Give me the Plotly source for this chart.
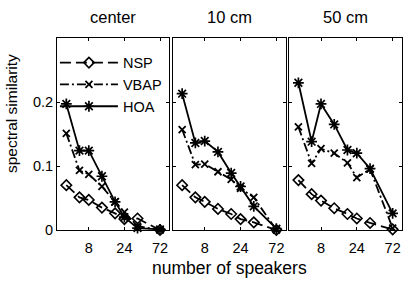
import plotly.graph_objects as go

speakers = [4, 6, 8, 12, 18, 24, 36, 72]
panels = ["center", "10 cm", "50 cm"]

nsp_center = [0.070, 0.051, 0.047, 0.035, 0.026, 0.017, 0.018, 0.0]
vbap_center = [0.151, 0.093, 0.087, 0.068, 0.044, 0.028, 0.006, 0.0]
hoa_center = [0.197, 0.124, 0.124, 0.084, 0.044, 0.020, 0.003, 0.001]

nsp_10 = [0.070, 0.051, 0.044, 0.033, 0.025, 0.017, 0.012, 0.0]
vbap_10 = [0.157, 0.102, 0.103, 0.091, 0.079, 0.065, 0.051, 0.0]
hoa_10 = [0.213, 0.136, 0.139, 0.122, 0.089, 0.068, 0.037, 0.002]

nsp_50 = [0.078, 0.056, 0.046, 0.034, 0.025, 0.018, 0.011, 0.001]
vbap_50 = [0.161, 0.104, 0.127, 0.120, 0.105, 0.082, 0.095, 0.003]
hoa_50 = [0.230, 0.138, 0.197, 0.165, 0.125, 0.120, 0.096, 0.026]

x_ticks = [8, 24, 72]
y_ticks = [0, 0.1, 0.2]
y_tick_labels = ["0", "0.1", "0.2"]

data = [
    (nsp_center, vbap_center, hoa_center),
    (nsp_10, vbap_10, hoa_10),
    (nsp_50, vbap_50, hoa_50),
]

FONT = "Liberation Sans, Arial, sans-serif"
W, H = 409, 282
ML, MR, MT, MB = 57, 7, 38, 52
domains = [[0.0, 0.3255], [0.3355, 0.6630], [0.6725, 1.0]]

fig = go.Figure()
styles = [
    ("NSP", dict(dash="11px,5px", width=1.8), dict(symbol="diamond-open", size=8, line=dict(width=1.6, color="black"))),
    ("VBAP", dict(dash="9px,3px,2px,3px", width=1.8), dict(symbol="x-thin-open", size=7, line=dict(width=1.8, color="black"))),
    ("HOA", dict(dash="solid", width=1.8), dict(symbol="asterisk-open", size=9, line=dict(width=1.7, color="black"))),
]

for i, series in enumerate(data):
    xa = "x" if i == 0 else f"x{i+1}"
    ya = "y" if i == 0 else f"y{i+1}"
    for (name, ln, mk), vals in zip(styles, series):
        fig.add_trace(go.Scatter(
            x=speakers, y=vals, mode="lines+markers", name=name,
            line=dict(color="black", **ln), marker=dict(color="black", **mk),
            xaxis=xa, yaxis=ya, showlegend=(i == 0), cliponaxis=False,
        ))

layout = dict(
    width=W, height=H, margin=dict(l=ML, r=MR, t=MT, b=MB),
    paper_bgcolor="white", plot_bgcolor="white",
    font=dict(family=FONT, color="black", size=13),
    legend=dict(x=-0.006, y=0.955, xanchor="left", yanchor="top",
                bgcolor="rgba(0,0,0,0)", borderwidth=0,
                font=dict(size=14.5, family=FONT), itemwidth=58,
                tracegroupgap=0),
    showlegend=True,
)

for i in range(3):
    xk = "xaxis" if i == 0 else f"xaxis{i+1}"
    yk = "yaxis" if i == 0 else f"yaxis{i+1}"
    layout[xk] = dict(
        type="log", range=[0.477, 1.982], domain=domains[i],
        tickvals=x_ticks, ticktext=[str(v) for v in x_ticks],
        ticks="inside", ticklen=3, tickcolor="black", tickwidth=1,
        showline=True, linecolor="black", linewidth=1, mirror="ticks",
        showgrid=False, zeroline=False, anchor="y" if i == 0 else f"y{i+1}",
        tickfont=dict(size=14.5, family=FONT), ticklabelstandoff=5,
    )
    layout[yk] = dict(
        range=[0, 0.3], domain=[0, 1],
        tickvals=y_ticks, ticktext=y_tick_labels if i == 0 else ["", "", ""],
        showticklabels=(i == 0),
        ticks="inside", ticklen=3, tickcolor="black", tickwidth=1,
        showline=True, linecolor="black", linewidth=1, mirror="ticks",
        showgrid=False, zeroline=False, anchor="x" if i == 0 else f"x{i+1}",
        tickfont=dict(size=14.5, family=FONT),
    )

fig.update_layout(**layout)

plot_h = H - MT - MB
plot_w = W - ML - MR
annotations = []
for i, t in enumerate(panels):
    cx = (domains[i][0] + domains[i][1]) / 2
    annotations.append(dict(
        text=t, x=cx, y=1 + (38 - 17) / plot_h, xref="paper", yref="paper",
        xanchor="center", yanchor="middle", showarrow=False,
        font=dict(size=16.5, family=FONT)))
annotations.append(dict(
    text="number of speakers", x=(229 - ML) / plot_w, y=-(268 - 230) / plot_h,
    xref="paper", yref="paper", xanchor="center", yanchor="middle",
    showarrow=False, font=dict(size=17.5, family=FONT)))
annotations.append(dict(
    text="spectral similarity", x=-(ML - 11) / plot_w, y=(230 - 114) / plot_h,
    xref="paper", yref="paper", xanchor="center", yanchor="middle",
    textangle=-90, showarrow=False, font=dict(size=15.5, family=FONT)))
fig.update_layout(annotations=annotations)

fig.write_html(
    "out.html",
    config={"displayModeBar": False},
    post_script="document.body.style.margin='0';document.body.style.overflow='hidden';",
)
